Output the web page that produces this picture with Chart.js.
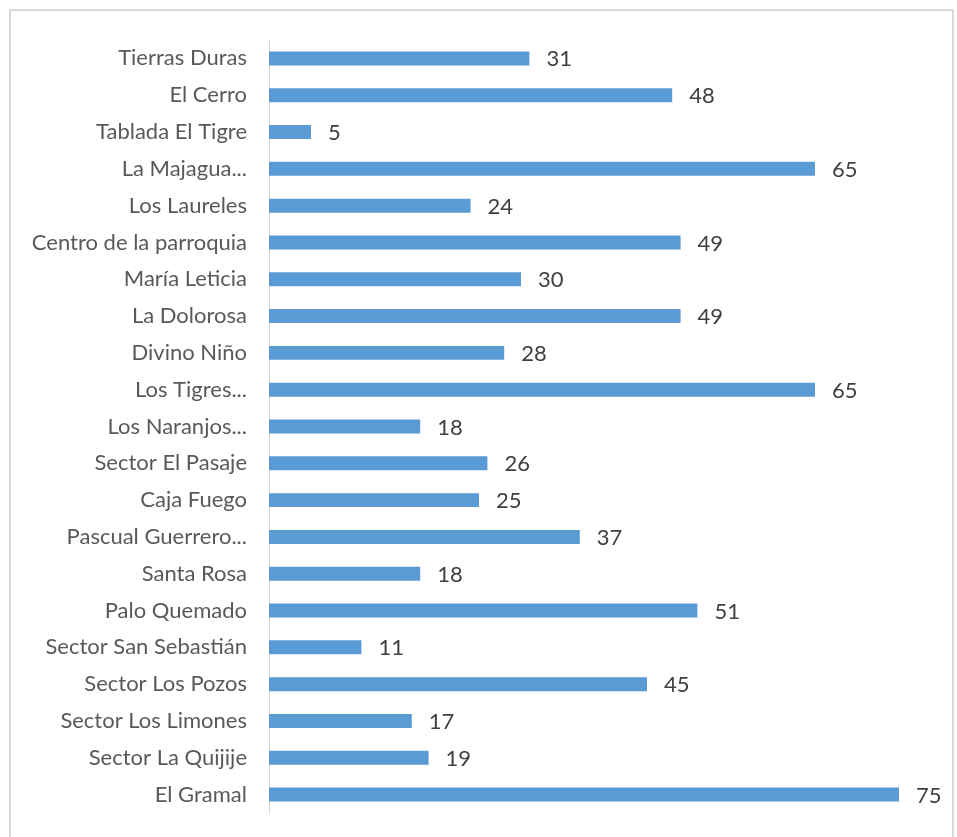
<!DOCTYPE html>
<html>
<head>
<meta charset="utf-8">
<script src="https://cdn.jsdelivr.net/npm/chart.js@4.4.1/dist/chart.umd.min.js"></script>
<style>
  html, body { margin: 0; padding: 0; background: #ffffff; }
  #wrap { position: absolute; left: 0; top: 0; width: 957px; height: 837px; }
</style>
</head>
<body>
<div id="wrap"><canvas id="c" width="957" height="837"></canvas></div>
<script>
// Communities and their counts, listed top to bottom
const categories = [
  "Tierras Duras", "El Cerro", "Tablada El Tigre", "La Majagua...", "Los Laureles",
  "Centro de la parroquia", "María Leticia", "La Dolorosa", "Divino Niño", "Los Tigres...",
  "Los Naranjos...", "Sector El Pasaje", "Caja Fuego", "Pascual Guerrero...", "Santa Rosa",
  "Palo Quemado", "Sector San Sebastián", "Sector Los Pozos", "Sector Los Limones",
  "Sector La Quijije", "El Gramal"
];
const values = [31, 48, 5, 65, 24, 49, 30, 49, 28, 65, 18, 26, 25, 37, 18, 51, 11, 45, 17, 19, 75];
const axisMin = 0;
const axisMax = 80;

const FONT = "Lato, 'Open Sans', sans-serif";

// Light frame around the whole figure
const framePlugin = {
  id: 'frame',
  beforeDraw(chart) {
    const ctx = chart.ctx;
    ctx.save();
    ctx.strokeStyle = '#d9d9d9';
    ctx.lineWidth = 2;
    ctx.strokeRect(10, 10, 943, 840);
    ctx.restore();
  }
};

// Value printed just past the end of each bar
const valueLabels = {
  id: 'valueLabels',
  afterDatasetsDraw(chart) {
    const ctx = chart.ctx;
    const meta = chart.getDatasetMeta(0);
    ctx.save();
    ctx.font = "22px " + FONT;
    ctx.fillStyle = '#404040';
    ctx.textAlign = 'left';
    ctx.textBaseline = 'middle';
    meta.data.forEach((bar, i) => {
      ctx.fillText(String(values[i]), bar.x + 17, bar.y + 1);
    });
    ctx.restore();
  }
};

new Chart(document.getElementById('c'), {
  type: 'bar',
  data: {
    labels: categories,
    datasets: [{
      data: values,
      backgroundColor: '#5b9bd5',
      borderWidth: 0,
      categoryPercentage: 1,
      barPercentage: 0.38
    }]
  },
  options: {
    indexAxis: 'y',
    responsive: false,
    animation: false,
    layout: { padding: { top: 40, bottom: 24, right: 16, left: 0 } },
    plugins: {
      legend: { display: false },
      tooltip: { enabled: false }
    },
    scales: {
      x: {
        display: false,
        min: axisMin,
        max: axisMax
      },
      y: {
        afterFit(scale) { scale.width = 269; },
        // invisible tick marks keep the labels clear of the axis line
        grid: {
          display: true,
          drawOnChartArea: false,
          drawTicks: true,
          tickLength: 22,
          color: 'rgba(0,0,0,0)',
          tickColor: 'rgba(0,0,0,0)'
        },
        border: { display: true, color: '#d9d9d9', width: 1 },
        ticks: {
          padding: 0,
          color: '#595959',
          font: { family: FONT, size: 22 },
          autoSkip: false
        }
      }
    }
  },
  plugins: [framePlugin, valueLabels]
});
</script>
</body>
</html>
